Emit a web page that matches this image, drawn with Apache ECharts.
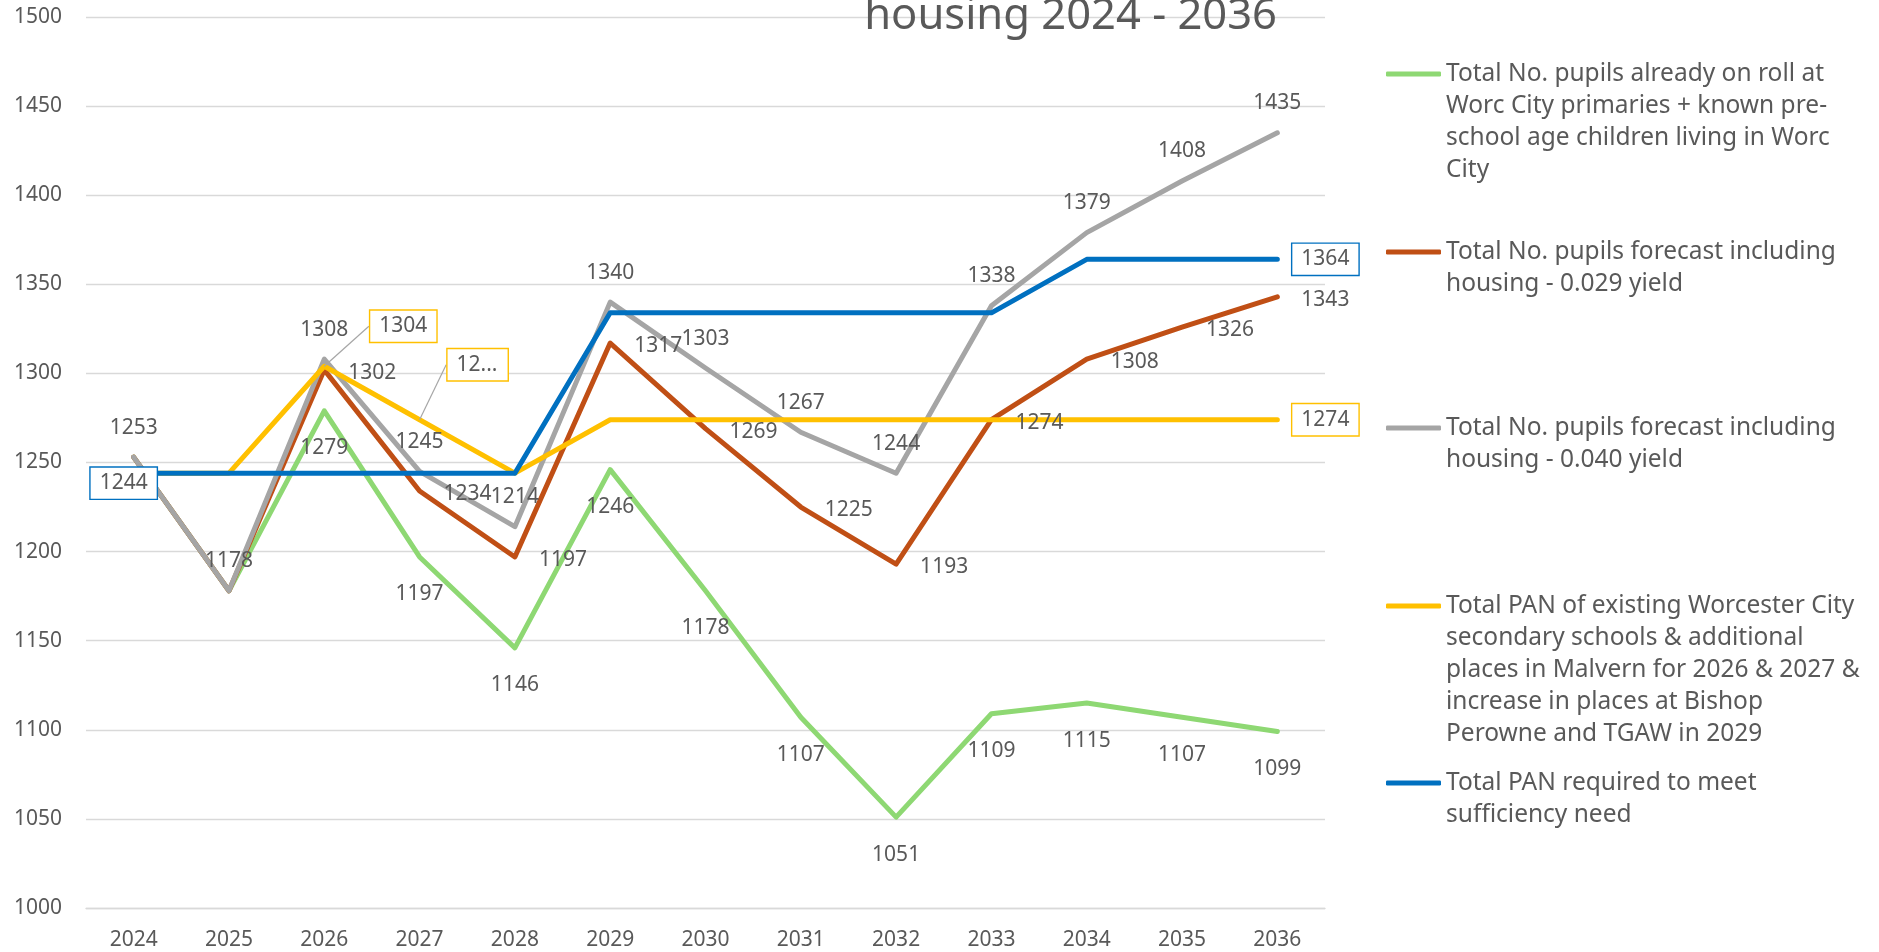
<!DOCTYPE html>
<html>
<head>
<meta charset="utf-8">
<script src="https://cdn.jsdelivr.net/npm/echarts@6/dist/echarts.min.js"></script>
<style>
  html, body { margin: 0; padding: 0; background: #ffffff; }
  #chart { width: 1879px; height: 952px; }
</style>
</head>
<body>
<div id="chart"></div>
<script>
// Academic years on the x axis
const years = ['2024', '2025', '2026', '2027', '2028', '2029', '2030', '2031', '2032', '2033', '2034', '2035', '2036'];

// Pupil numbers per year
const onRoll      = [1253, 1178, 1279, 1197, 1146, 1246, 1178, 1107, 1051, 1109, 1115, 1107, 1099];
const forecast029 = [1253, 1178, 1302, 1234, 1197, 1317, 1269, 1225, 1193, 1274, 1308, 1326, 1343];
const forecast040 = [1253, 1178, 1308, 1245, 1214, 1340, 1303, 1267, 1244, 1338, 1379, 1408, 1435];
const panExisting = [1244, 1244, 1304, 1274, 1244, 1274, 1274, 1274, 1274, 1274, 1274, 1274, 1274];
const panRequired = [1244, 1244, 1244, 1244, 1244, 1334, 1334, 1334, 1334, 1334, 1364, 1364, 1364];

// Value axis range
const yMin = 1000, yMax = 1500, yStep = 50;

// Series names (legend wording, wrapped as printed)
const nameOnRoll = 'Total No. pupils already on roll at\nWorc City primaries + known pre-\nschool age children living in Worc\nCity';
const name029 = 'Total No. pupils forecast including\nhousing - 0.029 yield';
const name040 = 'Total No. pupils forecast including\nhousing - 0.040 yield';
const namePanExisting = 'Total PAN of existing Worcester City\nsecondary schools & additional\nplaces in Malvern for 2026 & 2027 &\nincrease in places at Bishop\nPerowne and TGAW in 2029';
const namePanRequired = 'Total PAN required to meet\nsufficiency need';

// Which points carry a value label
const labelledOnRoll = [2, 3, 4, 5, 6, 7, 8, 9, 10, 11, 12];
const labelled029 = [2, 3, 4, 5, 6, 7, 8, 9, 10, 11, 12];
const labelled040 = [0, 1, 2, 3, 4, 5, 6, 7, 8, 9, 10, 11, 12];
const labelledPanExisting = [2, 3, 12];
const labelledPanRequired = [0, 12];

const FONT = '"Noto Sans", "Open Sans", sans-serif';
const TEXT = '#595959';
const GRID = '#D9D9D9';

const colors = {
  onRoll: '#8ED873',
  f029: '#C04F15',
  f040: '#A5A5A5',
  panExisting: '#FFC000',
  panRequired: '#0070C0'
};

// Build data items; per-point label tweaks are merged into the defaults
function pointData(values, shownIdx, extra) {
  return values.map((v, i) => {
    const item = { value: v, label: { show: shownIdx.indexOf(i) >= 0 } };
    if (extra && extra[i]) {
      const e = extra[i];
      if (e.label) Object.assign(item.label, e.label);
      if (e.labelLine) item.labelLine = e.labelLine;
    }
    return item;
  });
}

const valueLabel = { fontSize: 21, color: TEXT, fontFamily: FONT };

function lineSeries(name, color, data, label, more) {
  return Object.assign({
    name: name,
    type: 'line',
    data: data,
    symbol: 'circle',
    symbolSize: 0,
    itemStyle: { color: color },
    lineStyle: { color: color, width: 5, cap: 'round', join: 'round' },
    label: Object.assign({}, valueLabel, label),
    emphasis: { disabled: true },
    silent: true,
    animation: false
  }, more || {});
}

const boxLabel = (color) => ({
  position: 'right',
  distance: 15,
  borderColor: color,
  borderWidth: 1.4,
  padding: [5, 9],
  backgroundColor: '#ffffff'
});

const series = [
  lineSeries(nameOnRoll, colors.onRoll, pointData(onRoll, labelledOnRoll),
    { position: 'bottom', distance: 27 }),
  lineSeries(name029, colors.f029, pointData(forecast029, labelled029),
    { position: 'right', distance: 24, offset: [0, 3] }),
  lineSeries(name040, colors.f040, pointData(forecast040, labelled040),
    { position: 'top', distance: 19 }),
  lineSeries(namePanExisting, colors.panExisting,
    pointData(panExisting, labelledPanExisting, {
      3: { label: { width: 42, overflow: 'truncate', ellipsis: '...' } },
      12: { labelLine: { show: false } }
    }),
    boxLabel(colors.panExisting),
    {
      labelLine: { show: true, length2: 12, lineStyle: { color: '#A6A6A6', width: 1.2 } },
      labelLayout: function (p) {
        if (p.dataIndex === 2) return { dx: 31, dy: -40 };
        if (p.dataIndex === 3) return { dx: 13, dy: -55 };
        return {};
      }
    }),
  lineSeries(namePanRequired, colors.panRequired,
    pointData(panRequired, labelledPanRequired, {
      0: { label: { position: 'inside', offset: [-10, 10] } }
    }),
    boxLabel(colors.panRequired))
];

// One legend block per series; blank leading lines keep each icon level with the first text line
const legendIconY = [74, 252, 428, 606, 783];
const LINE_H = 32;
const legends = series.map((s, k) => {
  const n = s.name.split('\n').length;
  return {
    data: [s.name],
    orient: 'vertical',
    left: 1386,
    top: legendIconY[k] - (LINE_H / 2) * (2 * n - 1),
    padding: 0,
    itemGap: 0,
    itemWidth: 55,
    itemHeight: 5,
    icon: 'roundRect',
    selectedMode: false,
    formatter: (name) => '\n'.repeat(n - 1) + name,
    textStyle: {
      fontSize: 24.5,
      lineHeight: LINE_H,
      color: TEXT,
      fontFamily: FONT
    }
  };
});

const option = {
  backgroundColor: '#ffffff',
  animation: false,
  title: {
    text: 'housing 2024 - 2036',
    right: 602,
    top: -5,
    padding: 0,
    textStyle: { fontSize: 43.5, fontWeight: 'normal', color: TEXT, fontFamily: FONT }
  },
  legend: legends,
  grid: { left: 86, right: 554, top: 17, bottom: 44, containLabel: false },
  xAxis: {
    type: 'category',
    data: years,
    boundaryGap: true,
    axisLine: { show: true, lineStyle: { color: GRID, width: 1.4 } },
    axisTick: { show: false },
    axisLabel: { fontSize: 21, color: TEXT, fontFamily: FONT, margin: 22 }
  },
  yAxis: {
    type: 'value',
    min: yMin,
    max: yMax,
    interval: yStep,
    axisLine: { show: false },
    axisTick: { show: false },
    splitLine: { lineStyle: { color: GRID, width: 1.4 } },
    axisLabel: { fontSize: 21, color: TEXT, fontFamily: FONT, margin: 24, formatter: (v) => String(v) }
  },
  series: series
};

const chart = echarts.init(document.getElementById('chart'), null, { renderer: 'canvas' });
chart.setOption(option);
</script>
</body>
</html>
